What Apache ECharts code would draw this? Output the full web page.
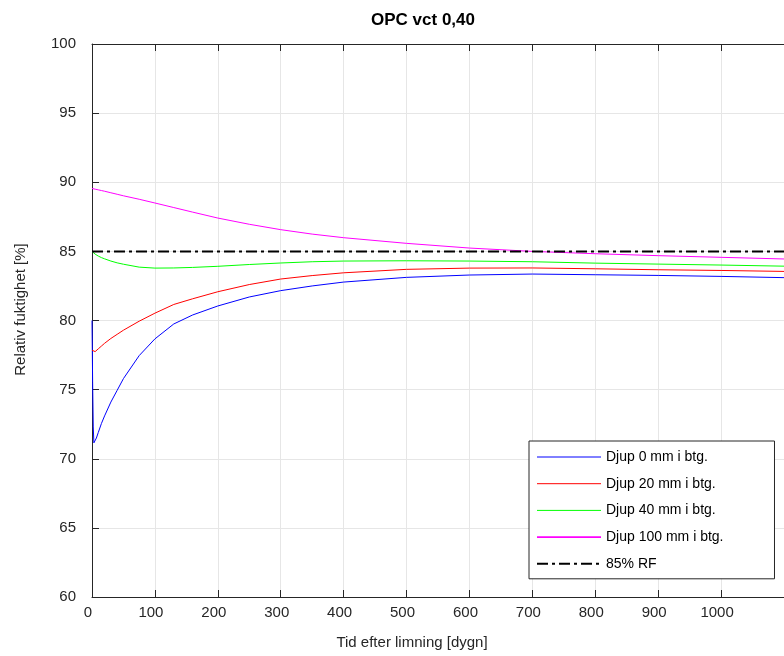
<!DOCTYPE html>
<html>
<head>
<meta charset="utf-8">
<script src="https://cdn.jsdelivr.net/npm/echarts@6/dist/echarts.min.js"></script>
<style>
html,body{margin:0;padding:0;background:#fff;}
#chart{width:784px;height:656px;}
</style>
</head>
<body>
<div id="chart"></div>
<script>
// ---- data ----
var titleText = 'OPC vct 0,40';
var xName = 'Tid efter limning [dygn]';
var yName = 'Relativ fuktighet [%]';
var seriesNames = ['Djup 0 mm i btg.', 'Djup 20 mm i btg.', 'Djup 40 mm i btg.', 'Djup 100 mm i btg.', '85% RF'];
var days = [0, 1, 2, 3, 5, 7, 10, 15, 20, 30, 40, 50, 75, 100, 130, 160, 200, 250, 300, 350, 400, 500, 600, 700, 800, 900, 1000, 1100];
var rh0   = [80.0, 75.5, 72.3, 71.15, 71.25, 71.5, 71.9, 72.55, 73.1, 74.1, 74.95, 75.8, 77.46, 78.67, 79.75, 80.4, 81.05, 81.7, 82.16, 82.5, 82.78, 83.12, 83.29, 83.36, 83.31, 83.26, 83.19, 83.1];
var rh20  = [77.85, 77.8, 77.75, 77.72, 77.75, 77.82, 77.95, 78.15, 78.35, 78.7, 79.0, 79.3, 79.95, 80.53, 81.16, 81.57, 82.08, 82.6, 83.0, 83.25, 83.45, 83.7, 83.79, 83.8, 83.74, 83.67, 83.62, 83.55];
var rh40  = [85.0, 84.95, 84.9, 84.86, 84.8, 84.74, 84.66, 84.55, 84.46, 84.3, 84.17, 84.07, 83.86, 83.79, 83.8, 83.84, 83.92, 84.05, 84.16, 84.25, 84.3, 84.32, 84.3, 84.25, 84.15, 84.08, 84.01, 83.93];
var rh100 = [89.55, 89.54, 89.53, 89.52, 89.5, 89.48, 89.45, 89.4, 89.35, 89.24, 89.13, 89.02, 88.77, 88.5, 88.17, 87.84, 87.41, 86.96, 86.57, 86.25, 85.99, 85.58, 85.24, 85.0, 84.83, 84.69, 84.57, 84.45];
var refLevel = 85;
var xMin = 0, xMax = 1100, xStep = 100;
var yMin = 60, yMax = 100, yStep = 5;

// ---- build ----
function pairs(xs, ys) { return xs.map(function (x, i) { return [x, ys[i]]; }); }
var FONT = '"Liberation Sans", Arial, Helvetica, sans-serif';
var AX = '#262626';

var chart = echarts.init(document.getElementById('chart'), null, {renderer: 'canvas'});
var lineSeries = function (name, data, color) {
  return {
    name: name, type: 'line', data: data, symbol: 'none', smooth: false,
    lineStyle: {color: color, width: 1}, itemStyle: {color: color},
    emphasis: {disabled: true}, animation: false
  };
};
var legendWidths = [1, 1, 1, 1.6, 2];
var option = {
  backgroundColor: '#ffffff',
  animation: false,
  title: {
    text: titleText, left: 418, top: 7, textAlign: 'center',
    textStyle: {fontFamily: FONT, fontSize: 17, fontWeight: 'bold', color: '#000'}
  },
  grid: {left: 92, top: 44, right: -12, bottom: 59, containLabel: false},
  legend: {
    orient: 'vertical', left: 529, top: 441,
    padding: [9, 51, 8, 7], itemGap: 12.7, itemWidth: 64, itemHeight: 14,
    backgroundColor: '#fff', borderColor: AX, borderWidth: 1,
    itemStyle: {opacity: 0},
    textStyle: {fontFamily: FONT, fontSize: 14, color: '#000', lineHeight: 14},
    data: seriesNames.map(function (n, i) { return {name: n, lineStyle: {width: legendWidths[i]}}; }),
    selectedMode: false
  },
  xAxis: [{
    type: 'value', min: xMin, max: xMax, interval: xStep, position: 'bottom',
    name: xName, nameLocation: 'middle', nameGap: 38,
    nameTextStyle: {fontFamily: FONT, fontSize: 15, color: AX, padding: [0, 52, 0, 0]},
    axisLine: {show: true, onZero: false, lineStyle: {color: AX, width: 1}},
    axisTick: {show: true, inside: true, length: 7, lineStyle: {color: AX}},
    axisLabel: {fontFamily: FONT, fontSize: 15, color: AX, margin: 8, showMaxLabel: false, padding: [0, 8, 0, 0],
      formatter: function (v) { return String(v); }},
    splitLine: {show: true, lineStyle: {color: '#e6e6e6', width: 1}}
  }, {
    type: 'value', min: xMin, max: xMax, interval: xStep, position: 'top',
    axisLine: {show: true, onZero: false, lineStyle: {color: AX, width: 1}},
    axisTick: {show: true, inside: true, length: 7, lineStyle: {color: AX}},
    axisLabel: {show: false}, splitLine: {show: false}
  }],
  yAxis: [{
    type: 'value', min: yMin, max: yMax, interval: yStep,
    name: yName, nameLocation: 'middle', nameGap: 64, nameRotate: 90,
    nameTextStyle: {fontFamily: FONT, fontSize: 15, color: AX, padding: [0, 0, 0, 22]},
    axisLine: {show: true, onZero: false, lineStyle: {color: AX, width: 1}},
    axisTick: {show: true, inside: true, length: 7, lineStyle: {color: AX}},
    axisLabel: {fontFamily: FONT, fontSize: 15, color: AX, margin: 16},
    splitLine: {show: true, lineStyle: {color: '#e6e6e6', width: 1}}
  }],
  series: [
    lineSeries(seriesNames[0], pairs(days, rh0), '#0000ff'),
    lineSeries(seriesNames[1], pairs(days, rh20), '#ff0000'),
    lineSeries(seriesNames[2], pairs(days, rh40), '#00ff00'),
    lineSeries(seriesNames[3], pairs(days, rh100), '#ff00ff'),
    {
      name: seriesNames[4], type: 'line', symbol: 'none',
      data: [[xMin, refLevel], [xMax, refLevel]],
      lineStyle: {color: '#000', width: 2, type: [11, 4, 3, 4]},
      itemStyle: {color: '#000'}, emphasis: {disabled: true}, z: 5
    }
  ]
};
chart.setOption(option);
</script>
</body>
</html>
